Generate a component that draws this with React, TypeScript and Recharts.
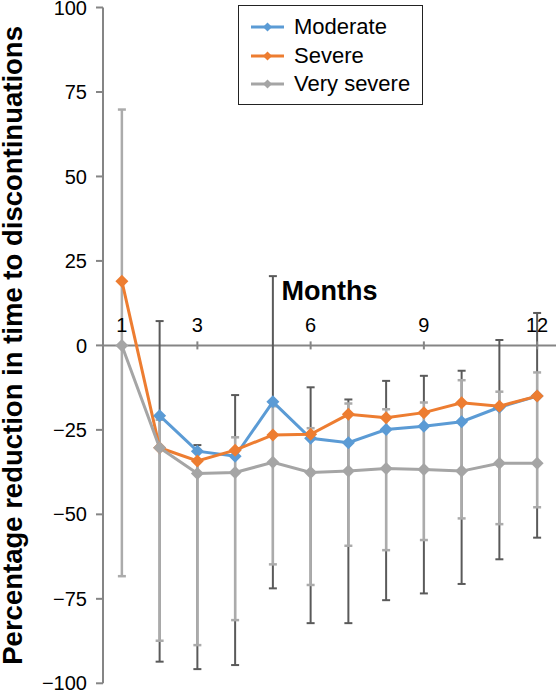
import React from 'react';
import {
  ComposedChart,
  Line,
  XAxis,
  YAxis,
  ReferenceLine,
  ReferenceDot,
  ErrorBar,
  Legend,
} from 'recharts';

// ---- data ----
const months = [1, 2, 3, 4, 5, 6, 7, 8, 9, 10, 11, 12];
const moderate = [null, -20.8, -31.3, -32.8, -16.7, -27.5, -28.8, -24.9, -23.9, -22.6, -18.3, -15.0];
const severe = [19.0, -30.3, -34.2, -31.0, -26.5, -26.3, -20.4, -21.4, -19.9, -17.0, -18.0, -15.0];
const verySevere = [0, -30.3, -37.9, -37.6, -34.6, -37.6, -37.2, -36.4, -36.7, -37.2, -34.9, -34.9];

// dark error bars (upper / lower limits)
const darkHigh = [null, 7.2, -29.5, -14.7, 20.5, -12.4, -16.0, -10.5, -9.0, -7.5, 1.6, 9.6];
const darkLow = [null, -93.6, -95.8, -94.6, -71.9, -82.2, -82.2, -75.4, -73.4, -70.6, -63.3, -56.9];
// light error bars (upper / lower limits)
const lightHigh = [69.8, -22.0, -31.0, -27.2, -18.0, -24.5, -17.2, -18.9, -16.9, -10.3, -13.7, -8.0];
const lightLow = [-68.3, -87.4, -88.7, -81.3, -64.8, -70.9, -59.3, -60.6, -57.6, -51.2, -52.9, -47.9];

const xTicks = [1, 3, 6, 9, 12];
const yTicks = [-100, -75, -50, -25, 0, 25, 50, 75, 100];
const seriesNames = ['Moderate', 'Severe', 'Very severe'];
const seriesKeys = ['moderate', 'severe', 'verySevere'];
const seriesColors = ['#5B9BD5', '#ED7D31', '#A5A5A5'];
const xLabel = 'Months';
const yLabel = 'Percentage reduction in time to discontinuations';

const FONT = '"Liberation Sans", Arial, Helvetica, sans-serif';

const data = months.map((m, i) => {
  const mod = moderate[i];
  const vs = verySevere[i];
  const dh = darkHigh[i];
  const dl = darkLow[i];
  return {
    month: m,
    moderate: mod,
    severe: severe[i],
    verySevere: vs,
    darkCenter: mod,
    lightCenter: vs,
    darkErr: mod == null || dh == null || dl == null ? null : [mod - dl, dh - mod],
    lightErr: [vs - lightLow[i], lightHigh[i] - vs],
  };
});

const makeDiamond = (color: string, r: number) => (props: any) => {
  const { cx, cy, index } = props;
  if (cx == null || cy == null || Number.isNaN(cx) || Number.isNaN(cy)) {
    return <g key={`d-${index}`} />;
  }
  return (
    <path
      key={`d-${index}`}
      d={`M${cx},${cy - r} L${cx + r},${cy} L${cx},${cy + r} L${cx - r},${cy} Z`}
      fill={color}
    />
  );
};

const XTickMark = (label: number) => (props: any) => {
  const { cx, cy } = props;
  return (
    <g>
      <line x1={cx} y1={cy - 4} x2={cx} y2={cy + 4} stroke="#858585" strokeWidth={2} />
      <text x={cx} y={cy - 13} textAnchor="middle" fontSize={20} fontFamily={FONT} fill="#000">
        {label}
      </text>
    </g>
  );
};

const MonthsLabel = (props: any) => {
  const { cx, cy } = props;
  return (
    <text x={cx} y={cy - 45.5} textAnchor="middle" fontSize={27} fontWeight="bold" fontFamily={FONT} fill="#000">
      {xLabel}
    </text>
  );
};

const YLabel = (props: any) => {
  const { viewBox } = props;
  const x = viewBox.x + 21.7;
  const y = viewBox.y + viewBox.height / 2;
  return (
    <text
      x={x}
      y={y}
      transform={`rotate(-90 ${x} ${y})`}
      textAnchor="middle"
      fontSize={27.5}
      fontWeight="bold"
      fontFamily={FONT}
      fill="#000"
    >
      {yLabel}
    </text>
  );
};

const LegendBox = () => (
  <div
    style={{
      boxSizing: 'border-box',
      width: 185,
      height: 100,
      border: '1.3px solid #222',
      background: '#fff',
      padding: '7px 0 0 12px',
      fontFamily: FONT,
      fontSize: 22,
      color: '#000',
    }}
  >
    {seriesNames.map((n, i) => (
      <div key={n} style={{ display: 'flex', alignItems: 'center', height: 28.6, lineHeight: '28.6px' }}>
        <svg width={33} height={14} style={{ display: 'block' }}>
          <line x1={0} y1={7} x2={33} y2={7} stroke={seriesColors[i]} strokeWidth={3} />
          <path d="M16.5,2.5 L21,7 L16.5,11.5 L12,7 Z" fill={seriesColors[i]} />
        </svg>
        <span style={{ marginLeft: 10 }}>{n}</span>
      </div>
    ))}
  </div>
);

export default function App() {
  return (
    <div style={{ position: 'absolute', left: 0, top: 0, width: 557, height: 692, background: '#fff' }}>
      <ComposedChart
        width={557}
        height={692}
        data={data}
        margin={{ top: 7.5, right: 1, bottom: 8.7, left: 0 }}
      >
        <XAxis dataKey="month" type="number" domain={[0.5, 12.5]} hide />
        <YAxis
          type="number"
          domain={[-100, 100]}
          ticks={yTicks}
          width={103}
          interval={0}
          tickSize={7}
          tickMargin={9}
          axisLine={{ stroke: '#858585', strokeWidth: 2 }}
          tickLine={{ stroke: '#858585', strokeWidth: 2 }}
          tick={{ fill: '#000', fontSize: 20, fontFamily: FONT }}
          tickFormatter={(v: number) => (v < 0 ? `\u2212${Math.abs(v)}` : String(v))}
          label={<YLabel />}
        />
        <ReferenceLine y={0} stroke="#858585" strokeWidth={2} />
        {xTicks.map((t) => (
          <ReferenceDot key={`xt-${t}`} x={t} y={0} r={0} shape={XTickMark(t)} ifOverflow="visible" />
        ))}
        <ReferenceDot x={6.5} y={0} r={0} shape={MonthsLabel} ifOverflow="visible" />

        {/* error bar carriers, drawn beneath the series */}
        <Line
          dataKey="darkCenter"
          stroke="none"
          dot={false}
          activeDot={false}
          legendType="none"
          isAnimationActive={false}
        >
          <ErrorBar dataKey="darkErr" direction="y" width={4} stroke="#5a5a5a" strokeWidth={2} isAnimationActive={false} />
        </Line>
        <Line
          dataKey="lightCenter"
          stroke="none"
          dot={false}
          activeDot={false}
          legendType="none"
          isAnimationActive={false}
        >
          <ErrorBar dataKey="lightErr" direction="y" width={4} stroke="#ababab" strokeWidth={2.5} isAnimationActive={false} />
        </Line>

        {seriesKeys.map((k, i) => (
          <Line
            key={k}
            dataKey={k}
            name={seriesNames[i]}
            stroke={seriesColors[i]}
            strokeWidth={3}
            dot={makeDiamond(seriesColors[i], 6.5)}
            activeDot={false}
            isAnimationActive={false}
          />
        ))}
        <Legend
          layout="vertical"
          align="center"
          verticalAlign="middle"
          content={<LegendBox />}
          wrapperStyle={{ left: 238, top: 5, width: 'auto', height: 'auto' }}
        />
      </ComposedChart>
    </div>
  );
}
